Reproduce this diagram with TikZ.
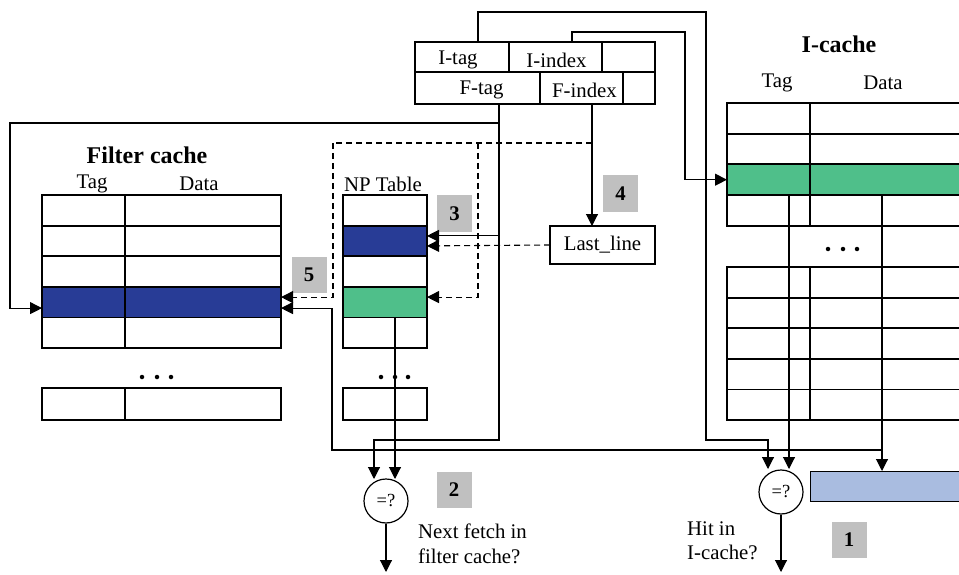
\documentclass[tikz,border=0pt]{standalone}
\usepackage{fontspec}
\setmainfont{Liberation Serif}
\usetikzlibrary{arrows.meta}
\definecolor{dblue}{HTML}{283C96}
\definecolor{mgreen}{HTML}{4FBF8A}
\definecolor{lblue}{HTML}{A9BCE0}
\definecolor{lgray}{HTML}{C0C0C0}
\begin{document}
\begin{tikzpicture}[x=1pt,y=-1pt,
 cell/.style={draw, line width=1.8pt, inner sep=0pt, outer sep=0pt, anchor=north west, minimum height=30.6pt},
 reg/.style={draw, line width=1.3pt, inner sep=0pt, outer sep=0pt, anchor=north west, font=\fontsize{20.8}{22}\selectfont},
 conn/.style={line width=1.1pt},
 arr/.style={conn, -{Triangle[length=12pt,width=12pt]}},
 dasharr/.style={arr, dash pattern=on 6pt off 4pt},
 dashln/.style={conn, dash pattern=on 6pt off 4pt},
 badge/.style={fill=lgray, minimum width=35pt, minimum height=36pt, inner sep=0pt, font=\fontsize{20.8}{22}\selectfont\bfseries},
 txt/.style={font=\fontsize{20.8}{22}\selectfont, inner sep=0pt},
 ttl/.style={font=\fontsize{24}{26}\selectfont\bfseries, inner sep=0pt},
 cmp/.style={circle, draw, line width=1.2pt, minimum size=44pt, inner sep=0pt, font=\fontsize{18.5}{20}\selectfont},
 dot/.style={fill=black, circle, inner sep=0pt, minimum size=4.5pt}]
\useasboundingbox (0,0) rectangle (959,575);
\clip (0,0) rectangle (959,575);

% address register
\node[reg, minimum width=94, minimum height=30] (itag) at (415,42) {};
\node[reg, minimum width=93, minimum height=30] (iidx) at (509,42) {};
\node[reg, minimum width=53, minimum height=30] (ispr) at (602,42) {};
\node[reg, minimum width=125, minimum height=32] (ftag) at (415,72) {};
\node[reg, minimum width=83, minimum height=32] (fidx) at (540,72) {};
\node[reg, minimum width=32, minimum height=32] (fspr) at (623,72) {};
\node[txt] (itagt) at ([xshift=-4pt,yshift=-3pt]itag.center) {I-tag};
\node[txt] (iidxt) at ([xshift=1pt,yshift=-3pt]iidx.center) {I-index};
\node[txt] (ftagt) at ([xshift=4pt,yshift=-2pt]ftag.center) {F-tag};
\node[txt] (fidxt) at ([xshift=3pt,yshift=-2pt]fidx.center) {F-index};

% filter cache
\node[ttl] (fctitle) at (147,155) {Filter cache};
\node[txt] (fctag) at (92,184) {Tag};
\node[txt] (fcdata) at (199,184) {Data};
\foreach \i/\y/\c in {1/195/white,2/225.6/white,3/256.2/white,4/286.8/dblue,5/317.4/white}{
  \node[cell, minimum width=83, fill=\c] (fct\i) at (42,\y) {};
  \node[cell, minimum width=156, fill=\c] (fcd\i) at (125,\y) {};
}
\node[cell, minimum width=83, minimum height=32] (fct6) at (42,388) {};
\node[cell, minimum width=156, minimum height=32] (fcd6) at (125,388) {};
\node[dot] (fcdot1) at (142,377) {};
\node[dot] (fcdot2) at (157,377) {};
\node[dot] (fcdot3) at (171,377) {};

% NP table
\node[txt] (nptitle) at (383,184) {NP Table};
\foreach \i/\y/\c in {1/195/white,2/225.6/dblue,3/256.2/white,4/286.8/mgreen,5/317.4/white}{
  \node[cell, minimum width=84, fill=\c] (np\i) at (343,\y) {};
}
\node[cell, minimum width=84, minimum height=32] (np6) at (343,388) {};
\node[dot] (npdot1) at (381,377) {};
\node[dot] (npdot2) at (395,377) {};
\node[dot] (npdot3) at (408,377) {};

% I-cache
\node[ttl] (ictitle) at (839,44) {I-cache};
\node[txt] (ictag) at (777,83) {Tag};
\node[txt] (icdata) at (883,83) {Data};
\foreach \i/\y/\c in {1/103/white,2/133.7/white,3/164.4/mgreen,4/195.1/white}{
  \node[cell, minimum width=83, fill=\c] (ict\i) at (727,\y) {};
  \node[cell, minimum width=170, fill=\c] (icd\i) at (810,\y) {};
}
\foreach \i/\y in {5/267,6/297.6,7/328.2,8/358.8,9/389.4}{
  \node[cell, minimum width=83] (ict\i) at (727,\y) {};
  \node[cell, minimum width=170] (icd\i) at (810,\y) {};
}
\node[dot] (icdot1) at (828,249) {};
\node[dot] (icdot2) at (843,249) {};
\node[dot] (icdot3) at (857,249) {};

% other boxes
\node[reg, minimum width=105, minimum height=38] (last) at (550,226) {Last\_line};
\node[draw, line width=1.2pt, fill=lblue, anchor=north west, minimum width=170, minimum height=30, inner sep=0pt] (buf) at (810,471) {};
\node[cmp] (cmp1) at (781,492) {=?};
\node[cmp] (cmp2) at (386,501) {=?};

% badges
\node[badge] (b1) at (849,540) {1};
\node[badge] (b2) at (454,489.5) {2};
\node[badge] (b3) at (454.5,213.5) {3};
\node[badge] (b4) at (620.5,193.5) {4};
\node[badge] (b5) at (309,274.5) {5};

% text labels
\node[txt, anchor=west, align=left, font=\fontsize{20.8}{25.5}\selectfont] (nextlbl) at (418,544) {Next fetch in\\filter cache?};
\node[txt, anchor=west, align=left, font=\fontsize{20.8}{24.5}\selectfont] (hitlbl) at (687,541) {Hit in\\I-cache?};

% named bend points
\coordinate (itagup) at (478,12);
\coordinate (itagdn) at (706,440);
\coordinate (c1a) at (768,469);
\coordinate (c1b) at (789,469);
\coordinate (iidxdn) at (685,32);
\coordinate (ftagdn) at (499,440);
\coordinate (ftagbr) at (499,123);
\coordinate (leftdn) at (10,123);
\coordinate (c2a) at (374,479);
\coordinate (c2b) at (395,479);
\coordinate (dtop) at (592,143);
\coordinate (dleft) at (333,143);
\coordinate (dmid) at (478,143);
\coordinate (datab) at (882,450);
\coordinate (datal) at (332,450);
\coordinate (out1) at (781,572);
\coordinate (out2) at (386,572);

% I-tag -> comparator 1
\draw[arr] (itag.north -| itagup) -- (itagup) -| (itagdn) -| (c1a);
% I-index -> I-cache row
\draw[arr] ([xshift=16.5pt]iidx.north) |- (iidxdn) |- (ict3.west);
% I-cache tag -> comparator 1
\draw[arr] (ict3.south -| c1b) -- (c1b);
% I-cache data -> buffer
\draw[arr] (icd3.south -| datab) -- (buf.north -| datab);
% data branch -> filter cache
\draw[arr] (datab) -- (datal) |- ([yshift=-6pt]fcd4.east);
% F-tag -> comparator 2
\draw[arr] ([xshift=21.5pt]ftag.south) -- (ftagdn) -| (c2a);
% F-tag -> filter cache (left)
\draw[arr] (ftagbr) -- (leftdn) |- ([yshift=-6pt]fct4.west);
% F-tag -> NP blue
\draw[arr] (ftagbr |- np2.east) ++(0,-5) -- ([yshift=5pt]np2.east);
% F-index -> Last_line
\draw[arr] ([xshift=10.5pt]fidx.south) -- ([xshift=10.5pt]fidx.south |- last.north);
% NP green -> comparator 2
\draw[arr] (np4.south -| c2b) -- (c2b);
% outputs
\draw[arr] (cmp1.south) -- (out1);
\draw[arr] (cmp2.south) -- (out2);
% dashed paths
\draw[dashln] (dtop) -- (dleft);
\draw[dasharr] (dleft) |- ([yshift=5pt]fcd4.east);
\draw[dasharr] (dmid) |- ([yshift=5pt]np4.east);
\draw[dasharr] (last.west) -- ([yshift=-5pt]np2.east);
\end{tikzpicture}
\end{document}
